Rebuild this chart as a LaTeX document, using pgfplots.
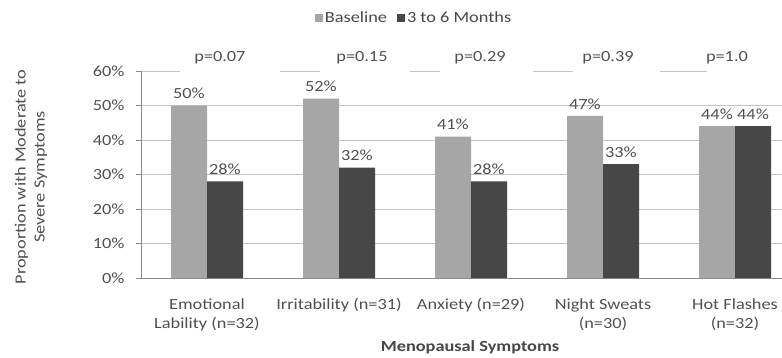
\documentclass[border=0pt]{standalone}
\usepackage{pgfplots}
\pgfplotsset{compat=1.18}
\usepackage{fontspec}
\setmainfont{Carlito}[FakeStretch=1.18]
\definecolor{basecol}{HTML}{A6A6A6}
\definecolor{darkcol}{HTML}{474747}
\definecolor{txt}{HTML}{505050}
\definecolor{gridc}{HTML}{C4C4C4}
\begin{document}
\begin{tikzpicture}[font=\fontsize{15.5bp}{19bp}\selectfont]
\useasboundingbox (0,0) rectangle (782bp,358bp);
\begin{axis}[
  at={(141bp,80bp)}, anchor=south west,
  scale only axis, width=641bp, height=207bp,
  xmin=-0.5, xmax=4.356, ymin=0, ymax=60,
  clip=false,
  axis x line=bottom, axis y line=left,
  axis line style={gridc!70!black, -},
  ybar=0pt, bar width=36bp,
  ytick={0,10,20,30,40,50,60},
  yticklabels={0\%,10\%,20\%,30\%,40\%,50\%,60\%},
  yticklabel style={text=txt, xshift=-8bp},
  ytick style={gridc!70!black},
  ymajorgrids, grid style={gridc, line width=0.8bp},
  major tick length=5bp, tick align=outside,
  xtick={0,1,2,3,4},
  xticklabels={{Emotional\\Lability (n=32)},{Irritability (n=31)},{Anxiety (n=29)},{Night Sweats\\(n=30)},{Hot Flashes\\(n=32)}},
  xticklabel style={align=center, text=txt, yshift=-12bp},
  x tick style={draw=none},
  extra x ticks={-0.5,0.5,1.5,2.5,3.5},
  extra x tick labels={},
  extra x tick style={grid=none, tick style={draw=gridc!70!black}, major tick length=5bp},
  /pgf/number format/assume math mode=true,
  nodes near coords={\pgfmathprintnumber{\pgfplotspointmeta}\%},
  every node near coord/.append style={text=txt, yshift=3bp},
  xlabel={\bfseries Menopausal Symptoms},
  xlabel style={at={(rel axis cs:0.5133,-0.333)}, anchor=center, text=darkcol},
  ylabel={Proportion with Moderate to\\Severe Symptoms},
  ylabel style={at={(rel axis cs:-0.1716,0.488)}, anchor=center, align=center, text=txt},
  legend style={at={(0.426,1.256)}, anchor=center, draw=none, fill=none, legend columns=2,
    /tikz/every even column/.append style={column sep=8bp}, text=darkcol},
  legend image code/.code={\fill[#1,draw=none] (0bp,-4bp) rectangle (8bp,4bp);},
]
\addplot[fill=basecol, draw=none] coordinates {(0,50) (1,52) (2,41) (3,47) (4,44)};
\addplot[fill=darkcol, draw=none] coordinates {(0,28) (1,32) (2,28) (3,33) (4,44)};
\legend{Baseline,3 to 6 Months}
\fill[white] (axis cs:-0.205,58.8) rectangle (axis cs:0.553,61.2);
\fill[white] (axis cs:0.856,58.8) rectangle (axis cs:1.538,61.2);
\fill[white] (axis cs:1.765,58.8) rectangle (axis cs:2.470,61.2);
\fill[white] (axis cs:2.773,58.8) rectangle (axis cs:3.432,61.2);
\fill[white] (axis cs:3.788,58.8) rectangle (axis cs:4.356,61.2);
\node[text=txt] at (axis cs:0.098,63.8) {p=0.07};
\node[text=txt] at (axis cs:1.174,63.8) {p=0.15};
\node[text=txt] at (axis cs:2.068,63.8) {p=0.29};
\node[text=txt] at (axis cs:3.038,63.8) {p=0.39};
\node[text=txt] at (axis cs:3.939,63.8) {p=1.0};
\end{axis}
\end{tikzpicture}
\end{document}
